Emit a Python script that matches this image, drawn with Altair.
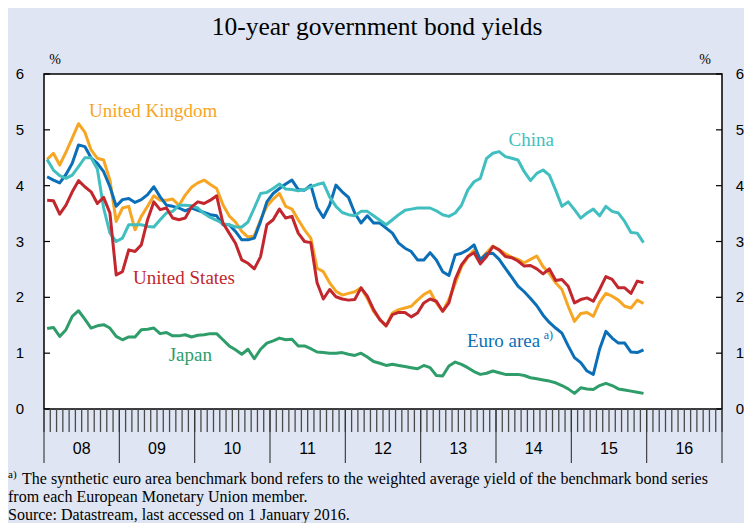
import altair as alt
import pandas as pd

# ---------------- data (monthly, Jan 2008 - Dec 2015) ----------------
months = pd.date_range("2008-01-01", periods=96, freq="MS")

uk = [4.47, 4.58, 4.37, 4.60, 4.85, 5.11, 4.96, 4.64, 4.49, 4.46, 4.10, 3.36,
      3.60, 3.63, 3.21, 3.45, 3.63, 3.82, 3.74, 3.74, 3.76, 3.65, 3.83, 3.97,
      4.05, 4.10, 4.02, 3.95, 3.66, 3.46, 3.35, 3.18, 3.08, 3.10, 3.39, 3.63,
      3.76, 3.86, 3.63, 3.58, 3.39, 3.21, 3.06, 2.52, 2.46, 2.26, 2.11, 2.04,
      2.07, 2.10, 2.17, 1.98, 1.75, 1.60, 1.49, 1.72, 1.78, 1.81, 1.84, 1.95,
      2.05, 2.11, 1.90, 1.75, 1.96, 2.25, 2.55, 2.72, 2.85, 2.68, 2.80, 2.92,
      2.85, 2.78, 2.72, 2.68, 2.62, 2.68, 2.74, 2.55, 2.43, 2.26, 2.14, 1.84,
      1.57, 1.71, 1.73, 1.66, 1.91, 2.07, 2.02, 1.95, 1.84, 1.81, 1.95, 1.89]

us = [3.74, 3.73, 3.49, 3.65, 3.89, 4.09, 3.98, 3.89, 3.68, 3.79, 3.51, 2.40,
      2.46, 2.85, 2.82, 2.94, 3.39, 3.71, 3.57, 3.60, 3.42, 3.39, 3.42, 3.62,
      3.71, 3.68, 3.74, 3.82, 3.33, 3.15, 2.97, 2.67, 2.61, 2.51, 2.73, 3.30,
      3.39, 3.58, 3.42, 3.45, 3.15, 3.00, 2.98, 2.26, 1.97, 2.14, 2.01, 1.97,
      1.95, 1.96, 2.17, 2.02, 1.78, 1.60, 1.49, 1.69, 1.73, 1.73, 1.65, 1.72,
      1.90, 1.97, 1.93, 1.75, 1.90, 2.32, 2.58, 2.73, 2.80, 2.60, 2.73, 2.91,
      2.85, 2.73, 2.71, 2.65, 2.56, 2.57, 2.51, 2.42, 2.51, 2.30, 2.32, 2.20,
      1.90, 1.96, 1.99, 1.93, 2.14, 2.37, 2.32, 2.17, 2.17, 2.07, 2.29, 2.26]

euro = [4.16, 4.10, 4.05, 4.20, 4.40, 4.73, 4.70, 4.50, 4.40, 4.25, 3.98, 3.63,
        3.75, 3.77, 3.70, 3.75, 3.84, 3.98, 3.80, 3.65, 3.63, 3.60, 3.55, 3.60,
        3.56, 3.52, 3.48, 3.46, 3.30, 3.30, 3.18, 3.03, 3.03, 3.06, 3.36, 3.71,
        3.86, 3.95, 4.03, 4.10, 3.93, 3.92, 4.01, 3.61, 3.43, 3.65, 4.01, 3.89,
        3.79, 3.51, 3.33, 3.46, 3.33, 3.33, 3.24, 3.15, 2.97, 2.88, 2.82, 2.67,
        2.67, 2.80, 2.67, 2.46, 2.39, 2.76, 2.79, 2.85, 2.94, 2.67, 2.78, 2.79,
        2.68, 2.52, 2.36, 2.20, 2.10, 1.98, 1.85, 1.68, 1.55, 1.45, 1.36, 1.13,
        0.92, 0.83, 0.68, 0.62, 1.07, 1.39, 1.27, 1.18, 1.18, 1.02, 1.01, 1.06]

china = [4.47, 4.28, 4.18, 4.13, 4.19, 4.34, 4.50, 4.50, 4.30, 3.60, 3.15, 3.00,
         3.06, 3.30, 3.30, 3.30, 3.27, 3.26, 3.39, 3.51, 3.54, 3.65, 3.65, 3.64,
         3.60, 3.50, 3.43, 3.38, 3.32, 3.30, 3.26, 3.26, 3.35, 3.60, 3.86, 3.88,
         3.95, 4.03, 3.94, 3.93, 3.91, 3.93, 3.98, 4.02, 4.05, 3.80, 3.63, 3.52,
         3.48, 3.46, 3.54, 3.54, 3.46, 3.38, 3.30, 3.39, 3.48, 3.56, 3.58, 3.60,
         3.60, 3.60, 3.55, 3.48, 3.45, 3.51, 3.65, 3.92, 4.07, 4.13, 4.49, 4.58,
         4.61, 4.52, 4.49, 4.46, 4.25, 4.09, 4.22, 4.28, 4.19, 3.92, 3.63, 3.71,
         3.57, 3.42, 3.51, 3.58, 3.46, 3.63, 3.54, 3.51, 3.36, 3.16, 3.15, 2.98]

japan = [1.44, 1.46, 1.30, 1.42, 1.66, 1.76, 1.61, 1.45, 1.49, 1.51, 1.45, 1.30,
         1.24, 1.29, 1.29, 1.42, 1.43, 1.45, 1.35, 1.37, 1.31, 1.31, 1.33, 1.29,
         1.32, 1.33, 1.35, 1.35, 1.24, 1.13, 1.06, 0.98, 1.07, 0.90, 1.07, 1.18,
         1.22, 1.27, 1.24, 1.25, 1.13, 1.13, 1.08, 1.02, 1.01, 1.00, 1.00, 1.01,
         0.98, 0.96, 1.00, 0.93, 0.85, 0.82, 0.78, 0.80, 0.78, 0.76, 0.74, 0.72,
         0.78, 0.74, 0.60, 0.59, 0.77, 0.84, 0.80, 0.74, 0.67, 0.62, 0.64, 0.68,
         0.65, 0.62, 0.62, 0.62, 0.60, 0.56, 0.54, 0.52, 0.50, 0.47, 0.42, 0.36,
         0.28, 0.38, 0.36, 0.35, 0.42, 0.46, 0.42, 0.36, 0.34, 0.32, 0.30, 0.28]

series_names = ["United Kingdom", "Euro area", "China", "United States", "Japan"]
series_values = [uk, euro, china, us, japan]
series_colors = ["#f7a623", "#0b6fb8", "#41bfc0", "#c1272d", "#2e9d69"]

y_ticks = [0, 1, 2, 3, 4, 5, 6]
year_labels = ["08", "09", "10", "11", "12", "13", "14", "15", "16"]

# series labels: text, position (month offset from Jan 2008, value)
label_text = ["United Kingdom", "China", "United States", "Euro area", "Japan"]
label_month = [17.4, 77.6, 22.3, 73.2, 23.3]
label_value = [5.34, 4.82, 2.35, 1.22, 0.97]
label_color = ["#f7a623", "#41bfc0", "#c1272d", "#0b6fb8", "#2e9d69"]

title_text = "10-year government bond yields"
footnote_lines = [
    "The synthetic euro area benchmark bond refers to the weighted average yield of the benchmark bond series",
    "from each European Monetary Union member.",
    "Source: Datastream, last accessed on 1 January 2016.",
]

# ---------------- layout ----------------
W, H = 678, 335
n_years = len(year_labels)
xscale = alt.Scale(domain=[0, 12 * n_years], nice=False, zero=False)
yscale = alt.Scale(domain=[0, 6], nice=False)

SERIF = "Liberation Serif"
SANS = "Liberation Sans"

start = months[0]
rows = []
for name, vals in zip(series_names, series_values):
    for d, v in zip(months, vals):
        m = (d.year - start.year) * 12 + (d.month - start.month) + 0.5
        rows.append({"series": name, "m": m, "v": v})
lines_df = pd.DataFrame(rows)

layers = []
for name, col in zip(series_names, series_colors):
    layers.append(
        alt.Chart(lines_df[lines_df.series == name])
        .mark_line(strokeWidth=3, color=col, strokeJoin="round")
        .encode(x=alt.X("m:Q", scale=xscale, axis=None),
                y=alt.Y("v:Q", scale=yscale, axis=None))
    )

ytick_df = pd.DataFrame({"v": y_ticks, "t": [str(t) for t in y_ticks]})
for x0, x1 in [(0, 6), (W - 6, W)]:
    layers.append(
        alt.Chart(ytick_df).mark_rule(color="black", strokeWidth=1.2)
        .encode(y=alt.Y("v:Q", scale=yscale, axis=None),
                x=alt.value(x0), x2=alt.value(x1))
    )
for xl in [-24, W + 18]:
    layers.append(
        alt.Chart(ytick_df).mark_text(font=SANS, fontSize=15, align="center",
                                      baseline="middle", color="black")
        .encode(y=alt.Y("v:Q", scale=yscale, axis=None), x=alt.value(xl), text="t:N")
    )

pct_df = pd.DataFrame({"t": ["%"]})
for xp in [11, W - 17]:
    layers.append(
        alt.Chart(pct_df).mark_text(font=SERIF, fontSize=14, align="center",
                                    baseline="middle", color="black")
        .encode(x=alt.value(xp), y=alt.value(-14), text="t:N")
    )

# month ticks and year dividers below the plot
mt_df = pd.DataFrame({"m": list(range(0, 12 * n_years + 1))})
layers.append(
    alt.Chart(mt_df).mark_rule(color="#4a4a4a", strokeWidth=1.3)
    .encode(x=alt.X("m:Q", scale=xscale, axis=None),
            y=alt.value(H), y2=alt.value(H + 23))
)
yd_df = pd.DataFrame({"m": [12 * i for i in range(n_years + 1)]})
layers.append(
    alt.Chart(yd_df).mark_rule(color="#333333", strokeWidth=1.1)
    .encode(x=alt.X("m:Q", scale=xscale, axis=None),
            y=alt.value(H), y2=alt.value(H + 54))
)
yl_df = pd.DataFrame({"m": [12 * i + 6 for i in range(n_years)], "t": year_labels})
layers.append(
    alt.Chart(yl_df).mark_text(font=SANS, fontSize=16, align="center",
                               baseline="middle", color="black")
    .encode(x=alt.X("m:Q", scale=xscale, axis=None), y=alt.value(H + 40), text="t:N")
)

# series labels
lab_df = pd.DataFrame({"t": label_text, "m": label_month, "v": label_value, "c": label_color})
layers.append(
    alt.Chart(lab_df).mark_text(font=SERIF, fontSize=19, align="center", baseline="middle")
    .encode(x=alt.X("m:Q", scale=xscale, axis=None),
            y=alt.Y("v:Q", scale=yscale, axis=None),
            text="t:N", color=alt.Color("c:N", scale=None))
)
sup_df = pd.DataFrame({"t": ["a)"], "m": [79.6], "v": [1.32]})
layers.append(
    alt.Chart(sup_df).mark_text(font=SERIF, fontSize=12, align="left",
                                baseline="middle", color="#0b6fb8")
    .encode(x=alt.X("m:Q", scale=xscale, axis=None),
            y=alt.Y("v:Q", scale=yscale, axis=None), text="t:N")
)

# title
title_df = pd.DataFrame({"t": [title_text]})
layers.append(
    alt.Chart(title_df).mark_text(font=SERIF, fontSize=25.5, align="center",
                                  baseline="middle", color="black")
    .encode(x=alt.value(333), y=alt.value(-47), text="t:N")
)

# footnotes
fn_df = pd.DataFrame({"t": footnote_lines, "x": [-22, -36, -36], "y": [405, 423, 441]})
layers.append(
    alt.Chart(fn_df).mark_text(font=SERIF, fontSize=16, align="left",
                               baseline="middle", color="black")
    .encode(x=alt.X("x:Q", scale=None), y=alt.Y("y:Q", scale=None), text="t:N")
)
fsup_df = pd.DataFrame({"t": ["a)"]})
layers.append(
    alt.Chart(fsup_df).mark_text(font=SERIF, fontSize=11, align="left",
                                 baseline="middle", color="black")
    .encode(x=alt.value(-36), y=alt.value(401), text="t:N")
)

chart = (
    alt.layer(*layers)
    .properties(width=W, height=H,
                autosize=alt.AutoSizeParams(type="none"),
                padding={"left": 36, "top": 66, "right": 22, "bottom": 114})
    .configure(background="#dfe5f2")
    .configure_view(fill="white", stroke="black", strokeWidth=1.5)
)

chart.save("out.html", embed_options={"renderer": "svg", "actions": False})
